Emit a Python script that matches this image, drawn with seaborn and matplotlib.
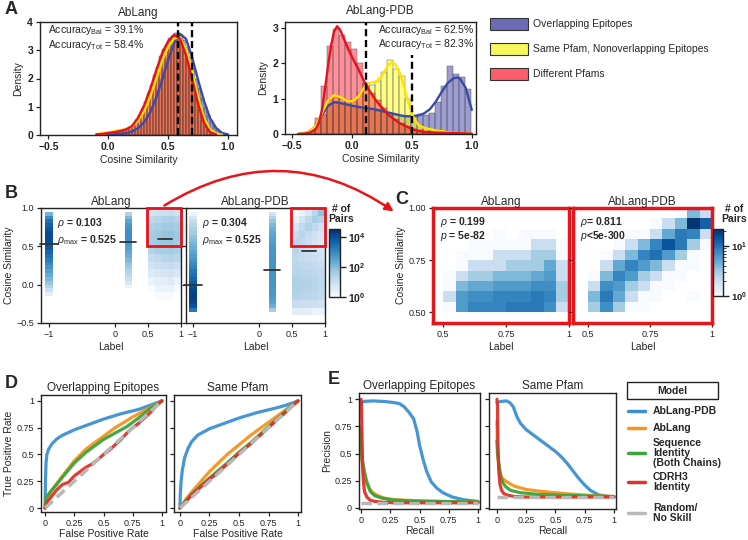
import numpy as np
import matplotlib
matplotlib.use("Agg")
import matplotlib.pyplot as plt
import seaborn as sns
from matplotlib.colors import LogNorm
from matplotlib.patches import Rectangle, FancyArrowPatch
from matplotlib.lines import Line2D
from matplotlib.cm import ScalarMappable

# ======================= DATA =======================
class_names = ["Overlapping Epitopes", "Same Pfam, Nonoverlapping Epitopes", "Different Pfams"]

a_left_red_hist = [0.02, 0.04, 0.05, 0.07, 0.08, 0.10, 0.11, 0.13, 0.15, 0.18, 0.22, 0.28, 0.38, 0.52, 0.72,
                   0.93, 1.18, 1.48, 1.78, 2.12, 2.42, 2.78, 3.04, 3.20, 3.42, 3.50, 3.60, 3.46, 3.28, 2.94,
                   2.66, 2.18, 1.76, 1.28, 0.90, 0.52, 0.28, 0.13, 0.05, 0.02, 0.01, 0, 0, 0]
a_left_yellow_hist = [0.03, 0.05, 0.07, 0.08, 0.10, 0.12, 0.14, 0.16, 0.18, 0.20, 0.23, 0.27, 0.33, 0.42, 0.55,
                      0.72, 0.95, 1.20, 1.52, 1.85, 2.20, 2.55, 2.88, 3.12, 3.32, 3.45, 3.52, 3.48, 3.35, 3.10,
                      2.75, 2.35, 1.88, 1.42, 1.00, 0.65, 0.38, 0.20, 0.09, 0.04, 0.02, 0.01, 0, 0]
a_left_blue_hist = [0, 0, 0.01, 0.01, 0.01, 0.02, 0.02, 0.03, 0.04, 0.05, 0.07, 0.10, 0.14, 0.20, 0.28,
                    0.38, 0.52, 0.72, 0.98, 1.28, 1.62, 1.98, 2.35, 2.72, 3.05, 3.32, 3.50, 3.62, 3.55, 3.38,
                    3.10, 2.75, 2.38, 2.00, 1.65, 1.30, 1.00, 0.72, 0.50, 0.33, 0.20, 0.11, 0.05, 0.02]
a_left_red_kde_x = [-0.1, -0.05, 0.0, 0.05, 0.1, 0.15, 0.2, 0.25, 0.3, 0.35, 0.4, 0.45, 0.5, 0.55, 0.6,
                    0.65, 0.7, 0.75, 0.8, 0.85, 0.9]
a_left_red_kde = [0.02, 0.04, 0.07, 0.10, 0.14, 0.20, 0.32, 0.62, 1.05, 1.62, 2.28, 2.90, 3.32, 3.55, 3.40,
                  2.82, 1.98, 1.10, 0.42, 0.10, 0.02]
a_left_yellow_kde_x = [-0.1, -0.05, 0.0, 0.05, 0.1, 0.15, 0.2, 0.25, 0.3, 0.35, 0.4, 0.45, 0.5, 0.55, 0.6,
                       0.65, 0.7, 0.75, 0.8, 0.85, 0.9, 0.95]
a_left_yellow_kde = [0.03, 0.06, 0.09, 0.13, 0.17, 0.22, 0.30, 0.50, 0.85, 1.35, 1.98, 2.62, 3.12, 3.42, 3.45,
                     3.05, 2.25, 1.35, 0.60, 0.20, 0.05, 0.01]
a_left_blue_kde_x = [0.0, 0.05, 0.1, 0.15, 0.2, 0.25, 0.3, 0.35, 0.4, 0.45, 0.5, 0.55, 0.6, 0.65, 0.7,
                     0.75, 0.8, 0.85, 0.9, 0.95, 1.0]
a_left_blue_kde = [0.01, 0.02, 0.04, 0.07, 0.13, 0.25, 0.45, 0.80, 1.30, 1.95, 2.65, 3.25, 3.58, 3.40, 2.75,
                   1.95, 1.20, 0.60, 0.25, 0.07, 0.02]
a_left_thresholds = [0.58, 0.70]
a_left_acc = ["39.1%", "58.4%"]

a_right_red_hist = [0.0, 0.03, 0.12, 0.45, 1.35, 2.50, 2.97, 2.80, 2.60, 2.40, 2.00, 1.45, 1.15, 0.95, 0.75,
                    0.55, 0.42, 0.30, 0.22, 0.15, 0.10, 0.07, 0.05, 0.04, 0.03, 0.03, 0.02, 0.02, 0.01]
a_right_yellow_hist = [0.0, 0.02, 0.08, 0.25, 0.55, 0.95, 1.05, 1.00, 0.95, 0.90, 1.15, 1.45, 1.40, 1.50, 1.75,
                       2.10, 1.85, 1.65, 1.00, 0.50, 0.25, 0.18, 0.12, 0.10, 0.07, 0.05, 0.03, 0.02, 0.01]
a_right_blue_hist = [0.0, 0.03, 0.10, 0.30, 0.55, 0.80, 0.90, 0.85, 0.80, 0.78, 0.75, 0.72, 0.70, 0.66, 0.62,
                     0.58, 0.55, 0.52, 0.50, 0.55, 0.58, 0.55, 0.60, 0.90, 1.35, 1.93, 1.70, 1.62, 1.27]
a_right_red_kde_x = [-0.45, -0.4, -0.35, -0.3, -0.275, -0.25, -0.225, -0.2, -0.175, -0.15, -0.125, -0.1,
                     -0.075, -0.05, -0.025, 0.0, 0.05, 0.1, 0.15, 0.2, 0.25, 0.3, 0.35, 0.4, 0.45, 0.5,
                     0.55, 0.6, 0.7, 0.8, 0.9, 1.0]
a_right_red_kde = [0.0, 0.01, 0.04, 0.15, 0.35, 0.70, 1.30, 1.95, 2.50, 2.90, 3.05, 2.95, 2.75, 2.55, 2.35,
                   2.18, 1.85, 1.50, 1.20, 0.95, 0.75, 0.55, 0.42, 0.30, 0.22, 0.14, 0.09, 0.06, 0.04,
                   0.03, 0.02, 0.01]
a_right_yellow_kde_x = [-0.45, -0.4, -0.35, -0.3, -0.25, -0.2, -0.15, -0.1, -0.05, 0.0, 0.05, 0.1, 0.15,
                        0.2, 0.25, 0.3, 0.33, 0.36, 0.4, 0.45, 0.5, 0.55, 0.6, 0.65, 0.7, 0.75, 0.8, 0.9, 1.0]
a_right_yellow_kde = [0.0, 0.02, 0.08, 0.25, 0.60, 0.95, 1.10, 1.05, 0.95, 0.92, 1.05, 1.30, 1.45, 1.48,
                      1.65, 1.95, 2.02, 1.98, 1.72, 1.15, 0.55, 0.27, 0.18, 0.14, 0.10, 0.08, 0.05, 0.02, 0.01]
a_right_blue_kde_x = [-0.45, -0.4, -0.35, -0.3, -0.25, -0.2, -0.15, -0.1, -0.05, 0.0, 0.05, 0.1, 0.15, 0.2,
                      0.25, 0.3, 0.35, 0.4, 0.45, 0.5, 0.55, 0.6, 0.65, 0.7, 0.75, 0.8, 0.85, 0.88, 0.9,
                      0.95, 1.0]
a_right_blue_kde = [0.0, 0.02, 0.08, 0.25, 0.55, 0.80, 0.90, 0.88, 0.84, 0.80, 0.77, 0.74, 0.72, 0.69, 0.65,
                    0.61, 0.57, 0.53, 0.50, 0.50, 0.52, 0.58, 0.70, 0.92, 1.20, 1.45, 1.58, 1.60, 1.57,
                    1.30, 0.68]
a_right_thresholds = [0.115, 0.50]
a_right_acc = ["62.5%", "82.3%"]

b_col_labels = [-1.0, 0.2]
b_left_neg_y0 = -0.125
b_left_neg_counts = [3, 10, 25, 60, 120, 220, 380, 650, 1050, 1700, 2700, 4200, 6500, 9000, 11500,
                     12000, 10500, 8000, 5000, 2500, 900, 150]
b_left_mid_y0 = -0.025
b_left_mid_counts = [2, 5, 10, 18, 30, 48, 75, 115, 170, 250, 360, 500, 650, 780, 820, 700, 500, 280, 110, 25]
b_right_neg_y0 = -0.325
b_right_neg_counts = [2000, 8000, 15000, 18000, 17000, 14000, 10000, 6500, 4200, 2800, 1900, 1300, 900,
                      620, 420, 290, 200, 140, 100, 70, 48, 32, 20, 12, 6, 2]
b_right_mid_y0 = -0.325
b_right_mid_counts = [40, 180, 350, 450, 500, 540, 560, 580, 600, 610, 620, 620, 610, 600, 580, 550, 510,
                      460, 400, 330, 260, 190, 120, 60, 25, 8]
b_cont_x = [0.55, 0.65, 0.75, 0.85, 0.95]
b_left_cont_y = [0.95, 0.85, 0.75, 0.65, 0.55, 0.45, 0.35, 0.25, 0.15, 0.05, -0.05, -0.15]
b_left_cont = [[6, 8, 10, 12, 8],
               [18, 22, 28, 32, 26],
               [30, 38, 45, 50, 42],
               [40, 50, 60, 65, 55],
               [38, 45, 55, 60, 48],
               [25, 32, 38, 42, 32],
               [14, 18, 22, 25, 20],
               [7, 10, 12, 14, 10],
               [4, 5, 6, 7, 5],
               [2, 3, 3, 4, 2],
               [1, 2, 2, 2, 1],
               [0, 1, 1, 1, 0]]
b_right_cont_y = [0.95, 0.85, 0.75, 0.65, 0.55, 0.45, 0.35, 0.25, 0.15, 0.05, -0.05, -0.15, -0.25, -0.35]
b_right_cont = [[1, 2, 5, 20, 70],
                [2, 6, 18, 35, 25],
                [6, 16, 28, 16, 8],
                [14, 22, 14, 8, 5],
                [22, 16, 10, 6, 4],
                [20, 14, 10, 8, 6],
                [18, 14, 12, 10, 8],
                [20, 18, 15, 14, 12],
                [24, 22, 20, 18, 15],
                [30, 28, 25, 22, 18],
                [30, 28, 25, 22, 18],
                [25, 22, 20, 18, 15],
                [12, 12, 10, 10, 8],
                [3, 3, 3, 2, 2]]
b_mean_x = [-1.0, 0.2, 0.76]
b_left_means = [0.53, 0.56, 0.60]
b_right_means = [-0.01, 0.19, 0.44]
b_left_stats = ["0.103", "0.525"]
b_right_stats = ["0.304", "0.525"]

c_x = [0.525, 0.575, 0.625, 0.675, 0.725, 0.775, 0.825, 0.875, 0.925, 0.975]
c_y = [0.975, 0.925, 0.875, 0.825, 0.775, 0.725, 0.675, 0.625, 0.575, 0.525]
c_left = [[0, 0, 0, 0, 0, 0, 0, 0, 0, 0],
          [0, 0, 0, 0, 0, 0, 0, 0, 0, 0],
          [0, 0, 0, 0, 1, 0, 1, 1, 1, 0],
          [0, 0, 1, 1, 1, 1, 1, 2, 2, 1],
          [0, 1, 1, 1, 2, 2, 2, 3, 3, 1],
          [0, 1, 2, 2, 2, 3, 3, 3, 5, 2],
          [1, 2, 3, 3, 4, 4, 4, 5, 6, 2],
          [1, 4, 5, 5, 6, 6, 6, 7, 7, 3],
          [2, 6, 7, 7, 8, 8, 8, 9, 8, 3],
          [1, 6, 8, 8, 8, 9, 9, 9, 7, 2]]
c_right = [[0, 0, 0, 0, 0, 0, 0, 1, 4, 2],
           [0, 0, 0, 0, 0, 1, 2, 4, 20, 12],
           [0, 0, 0, 1, 1, 2, 5, 9, 8, 2],
           [0, 0, 1, 2, 4, 8, 14, 9, 3, 1],
           [0, 1, 2, 4, 8, 10, 6, 3, 1, 0],
           [0, 2, 5, 8, 6, 4, 2, 1, 1, 0],
           [1, 4, 8, 6, 3, 2, 1, 1, 0, 0],
           [2, 7, 6, 3, 2, 1, 1, 0, 0, 0],
           [4, 9, 5, 2, 1, 1, 0, 0, 1, 0],
           [3, 7, 3, 1, 1, 0, 0, 0, 0, 0]]
c_left_stats = ["0.199", "5e-82"]
c_right_stats = ["0.811", "5e-300"]

models = ["AbLang-PDB", "AbLang", "Sequence\nIdentity\n(Both Chains)", "CDRH3\nIdentity", "Random/\nNo Skill"]
d1_pdb_fpr = [0, 0.003, 0.008, 0.015, 0.03, 0.06, 0.1, 0.15, 0.25, 0.35, 0.5, 0.65, 0.8, 0.9, 1.0]
d1_pdb_tpr = [0, 0.25, 0.42, 0.50, 0.55, 0.60, 0.645, 0.68, 0.73, 0.77, 0.83, 0.88, 0.92, 0.96, 1.0]
d1_abl_fpr = [0, 0.02, 0.05, 0.1, 0.15, 0.25, 0.35, 0.5, 0.6, 0.75, 0.85, 1.0]
d1_abl_tpr = [0, 0.08, 0.15, 0.23, 0.30, 0.44, 0.55, 0.67, 0.75, 0.85, 0.91, 1.0]
d1_seq_fpr = [0, 0.01, 0.05, 0.1, 0.15, 0.25, 0.35, 0.5, 0.6, 0.7, 0.8, 0.9, 1.0]
d1_seq_tpr = [0, 0.10, 0.16, 0.22, 0.29, 0.42, 0.52, 0.64, 0.70, 0.76, 0.84, 0.93, 1.0]
d1_cdr_fpr = [0, 0.02, 0.05, 0.1, 0.15, 0.2, 0.25, 0.3, 0.35, 0.4, 0.45, 0.5, 0.55, 0.6, 0.65, 0.7, 0.75,
              0.8, 0.85, 0.9, 0.95, 1.0]
d1_cdr_tpr = [0, 0.06, 0.10, 0.17, 0.22, 0.24, 0.30, 0.34, 0.38, 0.41, 0.45, 0.50, 0.54, 0.59, 0.64, 0.70,
              0.75, 0.79, 0.84, 0.89, 0.95, 1.0]
d2_pdb_fpr = [0, 0.003, 0.01, 0.02, 0.04, 0.07, 0.1, 0.15, 0.25, 0.35, 0.5, 0.65, 0.8, 0.9, 1.0]
d2_pdb_tpr = [0, 0.12, 0.25, 0.35, 0.47, 0.56, 0.62, 0.68, 0.74, 0.78, 0.84, 0.89, 0.93, 0.96, 1.0]
d2_abl_fpr = [0, 0.05, 0.1, 0.25, 0.4, 0.5, 0.6, 0.75, 0.9, 1.0]
d2_abl_tpr = [0, 0.08, 0.15, 0.34, 0.50, 0.59, 0.68, 0.80, 0.92, 1.0]
d2_seq_fpr = [0, 0.05, 0.1, 0.25, 0.4, 0.5, 0.6, 0.75, 0.9, 1.0]
d2_seq_tpr = [0, 0.07, 0.13, 0.28, 0.42, 0.52, 0.61, 0.76, 0.91, 1.0]
d2_cdr_fpr = [0, 0.05, 0.1, 0.15, 0.2, 0.25, 0.3, 0.35, 0.4, 0.5, 0.6, 0.7, 0.8, 0.9, 0.95, 1.0]
d2_cdr_tpr = [0, 0.06, 0.12, 0.17, 0.22, 0.27, 0.31, 0.36, 0.41, 0.51, 0.60, 0.70, 0.80, 0.90, 0.95, 1.0]
d_random = [0, 1]

e1_pdb_rec = [0, 0.02, 0.1, 0.2, 0.28, 0.33, 0.37, 0.41, 0.45, 0.48, 0.5, 0.53, 0.56, 0.6, 0.65, 0.7, 0.78,
              0.88, 1.0]
e1_pdb_prec = [0.96, 0.98, 0.985, 0.98, 0.97, 0.96, 0.93, 0.88, 0.82, 0.70, 0.58, 0.45, 0.34, 0.24, 0.18,
               0.14, 0.10, 0.075, 0.06]
e1_abl_rec = [0, 0.003, 0.01, 0.02, 0.04, 0.07, 0.1, 0.15, 0.2, 0.3, 0.5, 0.7, 1.0]
e1_abl_prec = [0.75, 0.55, 0.42, 0.32, 0.24, 0.18, 0.14, 0.11, 0.09, 0.075, 0.065, 0.06, 0.055]
e1_seq_rec = [0, 0.005, 0.01, 0.03, 0.05, 0.08, 0.12, 0.18, 0.25, 0.4, 0.6, 1.0]
e1_seq_prec = [0.75, 0.55, 0.45, 0.33, 0.24, 0.15, 0.11, 0.09, 0.075, 0.065, 0.06, 0.055]
e1_cdr_rec = [0, 0.004, 0.008, 0.012, 0.02, 0.03, 0.05, 0.08, 0.12, 0.2, 0.3, 1.0]
e1_cdr_prec = [1.0, 0.95, 0.70, 0.45, 0.25, 0.15, 0.10, 0.07, 0.06, 0.05, 0.047, 0.047]
e1_random = 0.047
e2_pdb_rec = [0, 0.03, 0.08, 0.11, 0.14, 0.17, 0.2, 0.25, 0.3, 0.4, 0.5, 0.55, 0.6, 0.65, 0.7, 0.75, 0.8,
              0.87, 0.95, 1.0]
e2_pdb_prec = [0.97, 0.98, 0.985, 0.97, 0.93, 0.84, 0.78, 0.72, 0.68, 0.60, 0.52, 0.47, 0.41, 0.34, 0.27,
               0.21, 0.16, 0.12, 0.105, 0.10]
e2_abl_rec = [0, 0.003, 0.01, 0.02, 0.04, 0.07, 0.1, 0.15, 0.25, 0.4, 0.6, 0.8, 1.0]
e2_abl_prec = [0.80, 0.60, 0.45, 0.35, 0.28, 0.25, 0.23, 0.20, 0.17, 0.15, 0.13, 0.115, 0.105]
e2_seq_rec = [0, 0.005, 0.015, 0.03, 0.05, 0.08, 0.12, 0.2, 0.35, 0.6, 1.0]
e2_seq_prec = [0.62, 0.50, 0.42, 0.30, 0.23, 0.19, 0.16, 0.14, 0.125, 0.115, 0.105]
e2_cdr_rec = [0, 0.004, 0.008, 0.015, 0.025, 0.04, 0.06, 0.1, 0.15, 0.25, 0.4, 1.0]
e2_cdr_prec = [1.0, 0.95, 0.60, 0.35, 0.22, 0.16, 0.13, 0.115, 0.105, 0.10, 0.10, 0.10]
e2_random = 0.10

# ======================= STYLE =======================
sns.set_style("ticks")
plt.rcParams.update({
    "font.family": ["Liberation Sans", "DejaVu Sans"],
    "mathtext.fontset": "custom",
    "mathtext.rm": "Liberation Sans",
    "mathtext.it": "Liberation Sans:italic",
    "mathtext.bf": "Liberation Sans:bold",
    "axes.edgecolor": "#222222",
    "axes.linewidth": 1.0,
    "xtick.color": "#222222",
    "ytick.color": "#222222",
})

W, H = 748, 540
fig = plt.figure(figsize=(W / 100, H / 100), dpi=100)


def add_ax(x0, y0, x1, y1):
    return fig.add_axes([x0 / W, 1 - y1 / H, (x1 - x0) / W, (y1 - y0) / H])


def fpos(x, y):
    return (x / W, 1 - y / H)


HIST_COLORS = ["#3c3ca6", "#ffff10", "#ff2035"]
KDE_COLORS = ["#3a4aa6", "#ffe400", "#e8101c"]
LEG_COLORS = ["#6a6ab6", "#f7f75e", "#ff5d6b"]
RED = "#e8141c"
MODEL_COLORS = ["#3c8fd2", "#f7931e", "#3aa53a", "#e03228", "#b8b8b8"]


def tick_style(ax, size=6.5, bold=False):
    ax.tick_params(axis="both", labelsize=size, length=3, width=0.9, pad=2, direction="out")
    if bold:
        for lab in ax.get_xticklabels() + ax.get_yticklabels():
            lab.set_fontweight("bold")
    for s in ax.spines.values():
        s.set_visible(True)


# ======================= PANEL A =======================
def density_panel(ax, edges, hists, kdes, thresholds, thr_tops, xlim, ylim, yticks, title, title_pad,
                  acc, acc_x):
    edges = np.asarray(edges)
    centers = list((edges[:-1] + edges[1:]) / 2)
    for h, c in zip(hists, HIST_COLORS):
        sns.histplot(x=centers, weights=list(h), bins=list(edges), color=c, alpha=0.5, edgecolor="#444444",
                     linewidth=0.3, ax=ax)
    for (kx, ky), c in zip(kdes, KDE_COLORS):
        sns.lineplot(x=kx, y=ky, color=c, linewidth=1.7, ax=ax, sort=False, estimator=None)
    for t, top in zip(thresholds, thr_tops):
        ax.plot([t, t], [0, top], color="black", lw=1.7, ls=(0, (3.0, 1.6)), zorder=5)
    ax.set_xlim(*xlim)
    ax.set_ylim(*ylim)
    ax.set_xticks([-0.5, 0.0, 0.5, 1.0])
    ax.set_xticklabels(["\u22120.5", "0.0", "0.5", "1.0"])
    ax.set_yticks(yticks)
    ax.set_yticklabels([str(v) for v in yticks])
    tick_style(ax, size=7.5, bold=True)
    ax.set_xlabel("Cosine Similarity", fontsize=7.5, labelpad=2)
    ax.set_ylabel("Density", fontsize=7.5, labelpad=3)
    ax.set_title(title, fontsize=8.5, pad=title_pad)
    ax.text(acc_x, 0.925, r"Accuracy$_{\mathrm{Bal}}$ = " + acc[0], transform=ax.transAxes,
            fontsize=7.5, va="center", ha="left")
    ax.text(acc_x, 0.80, r"Accuracy$_{\mathrm{Tot}}$ = " + acc[1], transform=ax.transAxes,
            fontsize=7.5, va="center", ha="left")


axA1 = add_ax(40, 22, 237, 135)
density_panel(axA1, np.linspace(-0.1, 1.0, 45),
              [a_left_blue_hist, a_left_yellow_hist, a_left_red_hist],
              [(a_left_blue_kde_x, a_left_blue_kde), (a_left_yellow_kde_x, a_left_yellow_kde),
               (a_left_red_kde_x, a_left_red_kde)],
              a_left_thresholds, [4.0, 4.0], (-0.57, 1.075), (0, 4.0), [0, 1, 2, 3, 4], "AbLang", 4,
              a_left_acc, 0.04)

axA2 = add_ax(285, 22, 476, 134)
density_panel(axA2, np.linspace(-0.46, 0.99, 30),
              [a_right_blue_hist, a_right_yellow_hist, a_right_red_hist],
              [(a_right_blue_kde_x, a_right_blue_kde), (a_right_yellow_kde_x, a_right_yellow_kde),
               (a_right_red_kde_x, a_right_red_kde)],
              a_right_thresholds, [3.17, 2.25], (-0.56, 1.035), (0, 3.17), [0, 1, 2, 3], "AbLang-PDB", 6,
              a_right_acc, 0.487)

for i, (name, col) in enumerate(zip(class_names, LEG_COLORS)):
    yc = 24 + 25 * i
    fig.add_artist(Rectangle(fpos(490, yc + 6), 38 / W, 12 / H, transform=fig.transFigure,
                             facecolor=col, edgecolor="#333333", lw=0.8))
    fig.text(*fpos(533, yc), name, fontsize=7.5, va="center", ha="left")

# ======================= PANEL B =======================
b_norm = LogNorm(vmin=1, vmax=3.4e4)
c_norm = LogNorm(vmin=1, vmax=21.5)


def _apply_norm(ax, norm):
    mesh = ax.collections[-1]
    mesh.norm = norm


def grid_hist(ax, xc, yc, rows, dx, dy, norm):
    xs, ys, ws = [], [], []
    for yv, row in zip(yc, rows):
        for xv, w in zip(xc, row):
            xs.append(xv)
            ys.append(yv)
            ws.append(w)
    xe = np.linspace(min(xc) - dx / 2, max(xc) + dx / 2, len(xc) + 1)
    ye = np.linspace(min(yc) - dy / 2, max(yc) + dy / 2, len(yc) + 1)
    sns.histplot(x=xs, y=ys, weights=ws, bins=[xe, ye], cmap="Blues", ax=ax, cbar=False)
    _apply_norm(ax, norm)


def columns_hist(ax, cols, norm):
    xs, ys, ws = [], [], []
    for xlab, (y0, counts) in zip(b_col_labels, cols):
        for i, w in enumerate(counts):
            xs.append(xlab)
            ys.append(y0 + 0.05 * i)
            ws.append(w)
    xe = [b_col_labels[0] - 0.06, b_col_labels[0] + 0.06, b_col_labels[1] - 0.055, b_col_labels[1] + 0.055]
    ye = np.linspace(-0.4, 1.0, 29)
    sns.histplot(x=xs, y=ys, weights=ws, bins=[np.array(xe), ye], cmap="Blues", ax=ax, cbar=False,
                 zorder=3)
    _apply_norm(ax, norm)


def label_panel(ax, cols, cont_y, cont, means, stats, title, xlim, show_ylab):
    grid_hist(ax, b_cont_x, cont_y, cont, 0.1, 0.1, b_norm)
    columns_hist(ax, cols, b_norm)
    for mx, my, hw in zip(b_mean_x, means, [0.13, 0.12, 0.11]):
        ax.plot([mx - hw, mx + hw], [my, my], color="#333333", lw=1.3, zorder=6, clip_on=False)
    ax.add_patch(Rectangle((0.48, 0.5), 0.52, 0.5, fill=False, edgecolor=RED, lw=2.0, clip_on=False,
                           zorder=7))
    ax.set_xlim(*xlim)
    ax.set_ylim(-0.5, 1.0)
    ax.set_xticks([-1, 0, 0.5, 1])
    ax.set_xticklabels(["\u22121", "0", "0.5", "1"])
    ax.set_yticks([-0.5, 0.0, 0.5, 1.0])
    if show_ylab:
        ax.set_yticklabels(["\u22120.5", "0.0", "0.5", "1.0"])
        ax.set_ylabel("Cosine Similarity", fontsize=7.5, labelpad=2)
    else:
        ax.set_yticklabels([])
        ax.set_ylabel("")
    tick_style(ax, size=6.5)
    ax.set_xlabel("Label", fontsize=7.5, labelpad=2)
    ax.set_title(title, fontsize=8.5, pad=2)
    ax.text(0.115, 0.87, r"$\rho$ = " + stats[0], transform=ax.transAxes, fontsize=7.5,
            fontweight="bold", va="center", zorder=8)
    ax.text(0.115, 0.72, r"$\rho_{\mathrm{max}}$ = " + stats[1], transform=ax.transAxes, fontsize=7.5,
            fontweight="bold", va="center", zorder=8)


axB1 = add_ax(41, 208, 181, 323)
label_panel(axB1, [(b_left_neg_y0, b_left_neg_counts), (b_left_mid_y0, b_left_mid_counts)],
            b_left_cont_y, b_left_cont, b_left_means, b_left_stats, "AbLang", (-1.12, 1.0), True)
axB2 = add_ax(186, 208, 325, 323)
label_panel(axB2, [(b_right_neg_y0, b_right_neg_counts), (b_right_mid_y0, b_right_mid_counts)],
            b_right_cont_y, b_right_cont, b_right_means, b_right_stats, "AbLang-PDB", (-1.105, 1.0), False)


def add_cbar(x0, y0, x1, y1, norm, ticks, labels, fs):
    cax = add_ax(x0, y0, x1, y1)
    sm = ScalarMappable(norm=norm, cmap="Blues")
    cb = fig.colorbar(sm, cax=cax)
    cb.set_ticks(ticks)
    cb.set_ticklabels(labels)
    cb.outline.set_linewidth(1.0)
    cax.tick_params(labelsize=fs, length=4, width=1.0, pad=1.5)
    cax.tick_params(which="minor", length=2)
    for lab in cax.get_yticklabels():
        lab.set_fontweight("bold")
    return cax


add_cbar(329, 229, 340, 297, b_norm, [1, 1e2, 1e4],
         [r"$\mathbf{10^{0}}$", r"$\mathbf{10^{2}}$", r"$\mathbf{10^{4}}$"], 7.5)
fig.text(*fpos(341, 214), "# of\nPairs", fontsize=7.5, fontweight="bold", ha="center", va="center",
         linespacing=0.95)


# ======================= PANEL C =======================
def zoom_panel(ax, rows, stats, title, xlim, show_ylab, ptext):
    grid_hist(ax, c_x, c_y, rows, 0.05, 0.05, c_norm)
    ax.set_xlim(*xlim)
    ax.set_ylim(0.448, 1.0)
    ax.set_xticks([0.5, 0.75, 1.0])
    ax.set_xticklabels(["0.5", "0.75", "1"])
    ax.set_yticks([0.5, 0.75, 1.0])
    if show_ylab:
        ax.set_yticklabels(["0.50", "0.75", "1.00"])
        ax.set_ylabel("Cosine Similarity", fontsize=7.5, labelpad=2)
    else:
        ax.set_yticklabels([])
        ax.set_ylabel("")
    tick_style(ax, size=6.5)
    for s in ax.spines.values():
        s.set_edgecolor(RED)
        s.set_linewidth(2.5)
    ax.set_xlabel("Label", fontsize=7.5, labelpad=2)
    ax.set_title(title, fontsize=8.5, pad=2)
    ax.text(0.05, 0.88, r"$\rho$" + ("= " if not show_ylab else " = ") + stats[0], transform=ax.transAxes,
            fontsize=7.5, fontweight="bold", va="center")
    ax.text(0.05, 0.76, r"$p$" + ptext + stats[1], transform=ax.transAxes, fontsize=7.5, fontweight="bold",
            va="center")


axC1 = add_ax(433, 208, 569, 323)
zoom_panel(axC1, c_left, c_left_stats, "AbLang", (0.46, 1.0), True, " = ")
axC2 = add_ax(573, 208, 712, 323)
zoom_panel(axC2, c_right, c_right_stats, "AbLang-PDB", (0.44, 1.0), False, "<")
add_cbar(713, 229, 723, 296, c_norm, [1, 10], [r"$\mathbf{10^{0}}$", r"$\mathbf{10^{1}}$"], 6.8)
fig.text(*fpos(734, 214), "# of\nPairs", fontsize=7.5, fontweight="bold", ha="center", va="center",
         linespacing=0.95)

fig.add_artist(FancyArrowPatch(fpos(162, 207), fpos(396, 213), transform=fig.transFigure,
                               connectionstyle="arc3,rad=-0.33", arrowstyle="-|>", mutation_scale=12,
                               color=RED, lw=1.8))


# ======================= PANEL D / E =======================
def curve_panel(ax, curves, random_xy, title, xlim, ylim, xlabel, ylabel):
    for (cx, cy), col in zip(curves, MODEL_COLORS[:4]):
        sns.lineplot(x=cx, y=cy, color=col, linewidth=2.3, ax=ax, sort=False, estimator=None, alpha=0.95)
    ax.plot(random_xy[0], random_xy[1], color=MODEL_COLORS[4], lw=2.5, ls=(0, (3.0, 1.6)), zorder=5)
    ax.set_xlim(*xlim)
    ax.set_ylim(*ylim)
    ticks = [0, 0.25, 0.5, 0.75, 1]
    tl = ["0", "0.25", "0.5", "0.75", "1"]
    ax.set_xticks(ticks)
    ax.set_xticklabels(tl)
    ax.set_yticks(ticks)
    if ylabel:
        ax.set_yticklabels(tl)
        ax.set_ylabel(ylabel, fontsize=7.5, labelpad=2)
    else:
        ax.set_yticklabels([])
        ax.set_ylabel("")
    tick_style(ax, size=6.5)
    ax.set_xlabel(xlabel, fontsize=7.5, labelpad=1)
    ax.set_title(title, fontsize=8.5, pad=3)


axD1 = add_ax(41, 395, 166, 512)
curve_panel(axD1, [(d1_pdb_fpr, d1_pdb_tpr), (d1_abl_fpr, d1_abl_tpr), (d1_seq_fpr, d1_seq_tpr),
                   (d1_cdr_fpr, d1_cdr_tpr)], (d_random, d_random), "Overlapping Epitopes",
            (-0.035, 1.035), (-0.037, 1.055), "False Positive Rate", "True Positive Rate")
axD2 = add_ax(174, 395, 301, 512)
curve_panel(axD2, [(d2_pdb_fpr, d2_pdb_tpr), (d2_abl_fpr, d2_abl_tpr), (d2_seq_fpr, d2_seq_tpr),
                   (d2_cdr_fpr, d2_cdr_tpr)], (d_random, d_random), "Same Pfam",
            (-0.05, 1.025), (-0.037, 1.055), "False Positive Rate", None)

axE1 = add_ax(359, 393, 480, 509)
curve_panel(axE1, [(e1_pdb_rec, e1_pdb_prec), (e1_abl_rec, e1_abl_prec), (e1_seq_rec, e1_seq_prec),
                   (e1_cdr_rec, e1_cdr_prec)], ([0, 1], [e1_random, e1_random]), "Overlapping Epitopes",
            (-0.017, 1.017), (-0.01, 1.058), "Recall", "Precision")
axE2 = add_ax(489, 393, 616, 509)
curve_panel(axE2, [(e2_pdb_rec, e2_pdb_prec), (e2_abl_rec, e2_abl_prec), (e2_seq_rec, e2_seq_prec),
                   (e2_cdr_rec, e2_cdr_prec)], ([0, 1], [e2_random, e2_random]), "Same Pfam",
            (-0.068, 1.017), (-0.01, 1.058), "Recall", None)

fig.add_artist(Rectangle(fpos(627, 399), 91 / W, 17 / H, transform=fig.transFigure, fill=False,
                         edgecolor="#222222", lw=1.0))
fig.text(*fpos(672.5, 390.5), "Model", fontsize=7.5, fontweight="bold", ha="center", va="center")
for name, col, yc in zip(models, MODEL_COLORS, [411, 428, 453, 482, 513]):
    x0, y0 = fpos(628, yc)
    x1, _ = fpos(645, yc)
    fig.add_artist(Line2D([x0, x1], [y0, y0], transform=fig.transFigure, color=col, lw=2.5))
    fig.text(*fpos(653, yc), name, fontsize=7.5, fontweight="bold", ha="left", va="center", linespacing=1.0)

for letter, (x, y) in zip("ABCDE", [(5, 10), (5, 193), (395, 200), (5, 383), (328, 380)]):
    fig.text(*fpos(x, y), letter, fontsize=13, fontweight="bold", ha="left", va="center")

fig.savefig("out.png", dpi=100)
